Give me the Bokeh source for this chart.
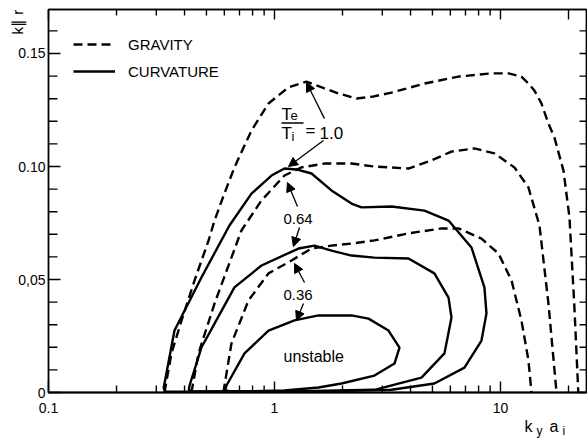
import math
from bokeh.plotting import figure
from bokeh.embed import file_html
from bokeh.resources import INLINE
from bokeh.models import (FixedTicker, PrintfTickFormatter, CustomJSTickFormatter, Label,
                          Arrow, NormalHead, Legend, LegendItem, LogAxis, LinearAxis)

# ---------------- data ----------------
# GRAVITY (dashed) marginal-stability curves, Te/Ti = 1.0, 0.64, 0.36
grav_10_x = [0.326, 0.350, 0.388, 0.443, 0.511, 0.543, 0.60, 0.665, 0.791, 0.941, 1.153, 1.385,
             1.60, 1.92, 2.306, 2.75, 3.294, 4.61, 6.52, 9.12, 10.85, 12.38, 13.3, 14.13,
             15.18, 16.3, 17.33, 19.0, 20.2, 21.2, 22.1]
grav_10_y = [0.0, 0.0173, 0.0319, 0.0496, 0.0673, 0.0761, 0.088, 0.0996, 0.1159, 0.1279, 0.135,
             0.1376, 0.1352, 0.1323, 0.1301, 0.131, 0.1327, 0.1367, 0.1398, 0.1412, 0.1412,
             0.1398, 0.1367, 0.1336, 0.1279, 0.119, 0.1128, 0.0982, 0.0774, 0.0394, 0.0]

grav_064_x = [0.429, 0.461, 0.543, 0.714, 0.876, 1.107, 1.317, 1.664, 2.192, 2.77, 3.917, 4.95,
              6.07, 7.67, 9.4, 11.53, 13.3, 14.88, 16.3, 17.7]
grav_064_y = [0.0, 0.0173, 0.0394, 0.0717, 0.085, 0.096, 0.0996, 0.1013, 0.1013, 0.1, 0.0991,
              0.1027, 0.1066, 0.108, 0.1058, 0.0996, 0.0907, 0.0739, 0.0394, 0.0]

grav_036_x = [0.594, 0.645, 0.767, 0.941, 1.189, 1.458, 1.787, 2.192, 2.77, 3.917, 5.48, 6.52,
              8.24, 9.8, 11.19, 12.38, 13.3, 13.71]
grav_036_y = [0.0, 0.0217, 0.0407, 0.0527, 0.0584, 0.0637, 0.065, 0.0659, 0.0673, 0.0704, 0.0726,
              0.0726, 0.0681, 0.0615, 0.0496, 0.0319, 0.0142, 0.0]

# CURVATURE (solid) closed contours, Te/Ti = 1.0, 0.64, 0.36
curv_10_x = [0.323, 0.361, 0.475, 0.632, 0.791, 0.97, 1.107, 1.25, 1.458, 1.787, 2.192, 2.427,
             3.294, 4.61, 5.89, 7.44, 8.49, 8.67, 8.24, 6.93, 5.1, 3.294, 1.787, 0.40, 0.33, 0.323]
curv_10_y = [0.0018, 0.0274, 0.0509, 0.0739, 0.088, 0.096, 0.0991, 0.0987, 0.0969, 0.0894, 0.0836,
             0.0819, 0.0823, 0.0805, 0.0761, 0.0642, 0.0465, 0.035, 0.023, 0.011, 0.004, 0.0012,
             0.0006, 0.0004, 0.0004, 0.0018]

curv_064_x = [0.421, 0.475, 0.665, 0.876, 1.277, 1.503, 1.787, 2.192, 2.77, 3.917, 5.1, 5.89,
              6.07, 5.65, 4.47, 2.77, 1.317, 0.43, 0.418, 0.421]
curv_064_y = [0.0031, 0.0199, 0.0465, 0.0562, 0.0637, 0.065, 0.0628, 0.0606, 0.0597, 0.0593,
              0.0527, 0.042, 0.0332, 0.0173, 0.0066, 0.0012, 0.0006, 0.0005, 0.0012, 0.0031]

curv_036_x = [0.613, 0.737, 0.941, 1.226, 1.566, 2.192, 2.606, 3.195, 3.574, 3.396, 2.77, 1.979,
              1.566, 1.107, 0.645, 0.605, 0.613]
curv_036_y = [0.0031, 0.0173, 0.0274, 0.0319, 0.0341, 0.0341, 0.0327, 0.0274, 0.0199, 0.0128,
              0.0075, 0.004, 0.0022, 0.0009, 0.0004, 0.001, 0.0031]

x_major_ticks = [0.1, 1, 10]
x_minor_ticks = [m * 10.0 ** e for e in (-1, 0, 1) for m in range(2, 10)]
y_major_ticks = [0, 0.05, 0.10, 0.15]
y_minor_ticks = [i / 100 for i in range(0, 17)]
legend_labels = ["GRAVITY", "CURVATURE"]
ratio_labels = ["1.0", "0.64", "0.36"]

# axis box (data limits of the drawn axes)
X_LO, X_HI = 0.1, 24.03
Y_LO, Y_HI = 0.0, 0.1695
# the frame covers the whole canvas; the axes are fixed at the box edges inside it
X_RANGE = (0.06133, 24.27)
Y_RANGE = (-0.02212, 0.17345)
FRAME_W, FRAME_H = 587, 442

# ---------------- figure ----------------
FONT = "Liberation Sans"
p = figure(width=587, height=442, x_axis_type="log", x_range=X_RANGE, y_range=Y_RANGE,
           output_backend="svg", toolbar_location=None,
           min_border_left=0, min_border_right=0, min_border_top=0, min_border_bottom=0)
p.grid.visible = False
p.outline_line_color = None
p.background_fill_color = "white"
p.border_fill_color = "white"

x_ticker = FixedTicker(ticks=x_major_ticks, minor_ticks=x_minor_ticks)
blank = CustomJSTickFormatter(code="return '';")

xa = p.xaxis[0]
xa.fixed_location = Y_LO
xa.bounds = (X_LO, X_HI)
xa.ticker = x_ticker
xa.formatter = PrintfTickFormatter(format="%g")
xa.major_tick_in = 0
xa.major_tick_out = 0
xa.minor_tick_in = 0
xa.minor_tick_out = 0
xa.axis_line_width = 2
xa.major_label_standoff = 10
xa.major_label_text_font = FONT
xa.major_label_text_font_size = "14px"
xa.major_label_text_color = "black"

ya = p.yaxis[0]
ya.fixed_location = X_LO
ya.bounds = (Y_LO, Y_HI)
ya.ticker = FixedTicker(ticks=y_major_ticks, minor_ticks=y_minor_ticks)
ya.formatter = CustomJSTickFormatter(code="""
    if (Math.abs(tick) < 1e-9) return '0';
    if (Math.abs(tick - 0.05) < 1e-6) return '0,05';
    return tick.toFixed(2);
""")
ya.major_tick_in = 0
ya.major_tick_out = 0
ya.minor_tick_in = 0
ya.minor_tick_out = 0
ya.axis_line_width = 1.5
ya.major_label_standoff = 3
ya.major_label_text_font = FONT
ya.major_label_text_font_size = "14px"
ya.major_label_text_color = "black"

top = LogAxis(fixed_location=Y_HI, bounds=(X_LO, X_HI), ticker=x_ticker, formatter=blank,
              axis_line_width=1.5, major_tick_in=0, major_tick_out=0, minor_tick_in=0,
              minor_tick_out=0, major_label_text_font_size="0px", major_label_standoff=0)
p.add_layout(top, "above")
right = LinearAxis(fixed_location=X_HI, bounds=(Y_LO, Y_HI),
                   ticker=FixedTicker(ticks=y_minor_ticks), formatter=blank, axis_line_width=1.5,
                   major_tick_in=0, major_tick_out=0, minor_tick_in=0, minor_tick_out=0,
                   major_label_text_font_size="0px", major_label_standoff=0)
p.add_layout(right, "right")

DASH = "9 5"
LW = 2.4
g10 = p.line(grav_10_x, grav_10_y, line_color="black", line_width=LW, line_dash=DASH)
p.line(grav_064_x, grav_064_y, line_color="black", line_width=LW, line_dash=DASH)
p.line(grav_036_x, grav_036_y, line_color="black", line_width=LW, line_dash=DASH)
c10 = p.line(curv_10_x, curv_10_y, line_color="black", line_width=LW)
p.line(curv_064_x, curv_064_y, line_color="black", line_width=LW)
p.line(curv_036_x, curv_036_y, line_color="black", line_width=LW)

# inward tick marks: one continuous comb path along each axis, at the tick values
YPP = (Y_RANGE[1] - Y_RANGE[0]) / FRAME_H
LPP = math.log10(X_RANGE[1] / X_RANGE[0]) / FRAME_W


def x_comb(ybase, sign, major_len, minor_len, extra_major=()):
    ticks = sorted([(t, major_len) for t in list(x_major_ticks) + list(extra_major)] +
                   [(t, minor_len) for t in x_minor_ticks if X_LO < t < X_HI and t not in extra_major])
    xs, ys = [X_LO], [ybase]
    for t, ln in ticks:
        if t < X_LO or t > X_HI:
            continue
        xs += [t, t, t]
        ys += [ybase, ybase + sign * ln * YPP, ybase]
    xs.append(X_HI)
    ys.append(ybase)
    p.line(xs, ys, line_color="black", line_width=1.4)


def y_comb(xbase, sign, major_len, minor_len, majors):
    ticks = sorted([(t, major_len) for t in majors] +
                   [(t, minor_len) for t in y_minor_ticks if t not in majors])
    xs, ys = [xbase], [Y_LO]
    for t, ln in ticks:
        xs += [xbase, xbase * 10 ** (sign * ln * LPP), xbase]
        ys += [t, t, t]
    xs.append(xbase)
    ys.append(Y_HI)
    p.line(xs, ys, line_color="black", line_width=1.4)


x_comb(Y_LO, 1, 11, 7)
x_comb(Y_HI, -1, 10, 6, extra_major=(20.0,))
y_comb(X_LO, 1, 12, 9, y_major_ticks)
y_comb(X_HI, -1, 7, 7, [])

legend = Legend(items=[LegendItem(label=legend_labels[0], renderers=[g10]),
                       LegendItem(label=legend_labels[1], renderers=[c10])],
                location=(73, 361), glyph_width=42, glyph_height=20, label_height=20,
                label_text_font=FONT, label_text_font_size="15px", label_standoff=13,
                label_text_color="black",
                spacing=7, padding=0, margin=0, border_line_alpha=0, background_fill_alpha=0)
p.add_layout(legend, "center")


def lab(x, y, text, size, **kw):
    kw.setdefault("text_baseline", "alphabetic")
    p.add_layout(Label(x=x, y=y, text=text, text_font=FONT, text_font_size=size,
                       text_color="black", **kw))


# Te/Ti = 1.0 annotation
lab(1.074, 0.1232, "T", "17px")
lab(1.177, 0.1224, "e", "13px")
p.segment(x0=[1.074], y0=[0.1193], x1=[1.344], y1=[0.1193], line_color="black", line_width=1.5)
lab(1.074, 0.1148, "T", "17px")
lab(1.189, 0.1131, "i", "13px")
lab(1.371, 0.1159, "=", "17px", text_baseline="middle")
lab(1.582, 0.1148, ratio_labels[0], "17px")
lab(1.096, 0.0768, ratio_labels[1], "15px")
lab(1.096, 0.0430, ratio_labels[2], "15px")
lab(1.096, 0.0160, "unstable", "16px")

arrows = [((1.664, 0.1212), (1.386, 0.1372)),
          ((1.647, 0.1115), (1.153, 0.1000)),
          ((1.264, 0.0823), (1.141, 0.0929)),
          ((1.290, 0.0730), (1.213, 0.0646)),
          ((1.358, 0.0487), (1.226, 0.0571)),
          ((1.344, 0.0394), (1.251, 0.0319))]
for (xs, ys), (xe, ye) in arrows:
    p.add_layout(Arrow(end=NormalHead(size=9, fill_color="black", line_color="black", line_width=1),
                       x_start=xs, y_start=ys, x_end=xe, y_end=ye, line_width=1.3, line_color="black"))

# axis titles
lab(0.0729, 0.1584, "k\u2225 r", "15px", angle=math.pi / 2)
lab(12.77, -0.0150, "k", "16px")
lab(14.43, -0.0170, "y", "12px")
lab(16.48, -0.0150, "a", "16px")
lab(18.8, -0.0170, "i", "12px")

open("out.html", "w").write(file_html(p, INLINE))
